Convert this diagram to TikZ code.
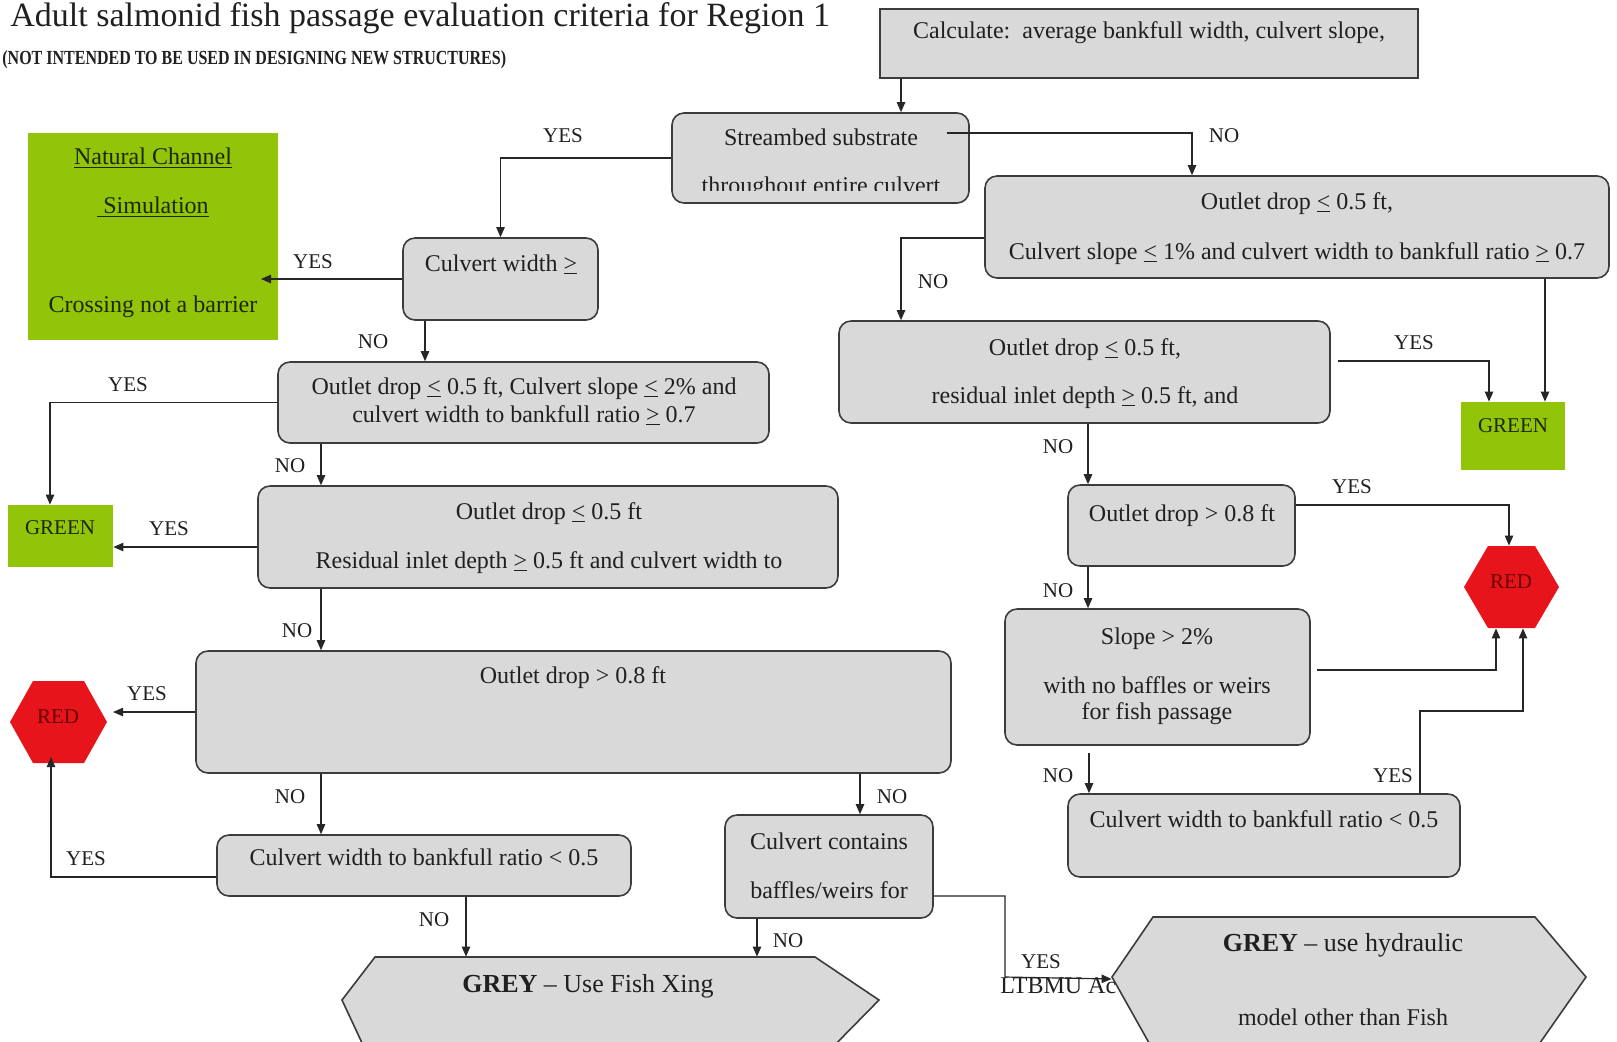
\documentclass[tikz,border=0pt]{standalone}
\usepackage{fontspec}
\setmainfont{Liberation Serif}
\usetikzlibrary{arrows.meta,fit}

\definecolor{boxgrey}{RGB}{217,217,217}
\definecolor{edge}{RGB}{60,60,60}
\definecolor{lime}{RGB}{146,196,10}
\definecolor{stopred}{RGB}{232,20,28}
\definecolor{redink}{RGB}{105,0,0}
\definecolor{ink}{RGB}{32,32,32}
\definecolor{greenink}{RGB}{28,40,0}

% underlined comparison signs
\newcommand{\myle}{\underline{<}}
\newcommand{\myge}{\underline{>}}

\begin{document}
\begin{tikzpicture}[x=0.5pt,y=-0.5pt,
  box/.style={draw=edge, fill=boxgrey, line width=0.8pt, rounded corners=6pt, inner sep=0pt},
  sqbox/.style={draw=edge, fill=boxgrey, line width=0.8pt, inner sep=0pt},
  go/.style={fill=lime, inner sep=0pt},
  area/.style={inner sep=0pt},
  txt/.style={inner sep=0pt, anchor=base, text=ink, font=\fontsize{12}{14}\selectfont},
  lbl/.style={inner sep=0pt, anchor=base, text=ink, font=\fontsize{10.5}{12}\selectfont},
  link/.style={draw=black!85, line width=0.6pt},
  arr/.style={link, -{Triangle[length=5pt,width=4.2pt]}}
]
\path[use as bounding box, fill=white] (0,0) rectangle (1617,1041);

% ---------- heading ----------
\node[inner sep=0pt, anchor=base west, text=ink, font=\fontsize{17}{20}\selectfont] (title) at (10,26)
  {Adult salmonid fish passage evaluation criteria for Region 1};
\node[inner sep=0pt, anchor=base west, text=ink, font=\bfseries\fontsize{10}{12}\selectfont] (subtitle) at (2,64)
  {\scalebox{0.8}[1]{(NOT INTENDED TO BE USED IN DESIGNING NEW STRUCTURES)}};

% ---------- boxes ----------
\node[sqbox, fit={(880,9) (1418,78)}] (calc) {};
\node[box, fit={(672,113) (969,203)}] (sb) {};
\node[go, fit={(28,133) (278,340)}] (nc) {};
\node[box, fit={(403,238) (598,320)}] (cw) {};
\node[box, fit={(985,176) (1609,278)}] (o1) {};
\node[box, fit={(278,362) (769,443)}] (o2) {};
\node[box, fit={(839,321) (1330,423)}] (o3) {};
\node[go, fit={(1461,402) (1565,470)}] (g2) {};
\node[go, fit={(8,505) (113,567)}] (g1) {};
\node[box, fit={(258,486) (838,588)}] (o4) {};
\node[box, fit={(1068,485) (1295,566)}] (o5) {};
\node[box, fit={(196,651) (951,773)}] (o6) {};
\node[box, fit={(1005,609) (1310,745)}] (sl) {};
\node[box, fit={(1068,794) (1460,877)}] (rr) {};
\node[box, fit={(217,835) (631,896)}] (rl) {};
\node[box, fit={(725,815) (933,918)}] (cc) {};

% stop signs
\node[area, fit={(10,681) (107,763)}] (red1) {};
\fill[stopred] (10,722) -- (33,681) -- (84,681) -- (107,722) -- (84,763) -- (33,763) -- cycle;
\node[area, fit={(1464,546) (1559,628)}] (red2) {};
\fill[stopred] (1464,587) -- (1488,546) -- (1535,546) -- (1559,587) -- (1535,628) -- (1488,628) -- cycle;

% side note partly covered by the second grey hexagon
\node[txt, anchor=base west] (ltbmu) at (1000,993) {LTBMU Ac};

% grey outcome hexagons
\node[area, fit={(342,957) (879,1041)}] (gr1) {};
\filldraw[fill=boxgrey, draw=edge, line width=0.8pt]
  (342,1000) -- (375,957) -- (815,957) -- (879,1000) -- (820,1060) -- (370,1060) -- cycle;
\node[area, fit={(1112,917) (1586,1041)}] (gr2) {};
\filldraw[fill=boxgrey, draw=edge, line width=0.8pt]
  (1112,977) -- (1153,917) -- (1535,917) -- (1586,977) -- (1535,1050) -- (1153,1050) -- cycle;

% ---------- box texts ----------
\node[txt] (t-calc) at (1149,38) {Calculate:\ \ average bankfull width, culvert slope,};
\node[txt] (t-sb1) at (821,145) {Streambed substrate};
\begin{scope}
  \clip (672,150) rectangle (969,190);
  \node[txt] (t-sb2) at (821,193) {throughout entire culvert};
\end{scope}
\node[txt, text=greenink] (t-nc1) at (153,164) {\underline{Natural Channel}};
\node[txt, text=greenink] (t-nc2) at (153,213) {\underline{\ Simulation}};
\node[txt, text=greenink] (t-nc3) at (153,312) {Crossing not a barrier};
\node[txt] (t-cw) at (501,271) {Culvert width \myge};
\node[txt] (t-o1a) at (1297,209) {Outlet drop \myle{} 0.5 ft,};
\node[txt] (t-o1b) at (1297,259) {Culvert slope \myle{} 1\% and culvert width to bankfull ratio \myge{} 0.7};
\node[txt] (t-o3a) at (1085,355) {Outlet drop \myle{} 0.5 ft,};
\node[txt] (t-o3b) at (1085,403) {residual inlet depth \myge{} 0.5 ft, and};
\node[txt] (t-o2a) at (524,394) {Outlet drop \myle{} 0.5 ft, Culvert slope \myle{} 2\% and};
\node[txt] (t-o2b) at (524,422) {culvert width to bankfull ratio \myge{} 0.7};
\node[txt] (t-o4a) at (549,519) {Outlet drop \myle{} 0.5 ft};
\node[txt] (t-o4b) at (549,568) {Residual inlet depth \myge{} 0.5 ft and culvert width to};
\node[txt] (t-o5) at (1182,521) {Outlet drop > 0.8 ft};
\node[txt] (t-o6) at (573,683) {Outlet drop > 0.8 ft};
\node[txt] (t-sl1) at (1157,644) {Slope > 2\%};
\node[txt] (t-sl2) at (1157,693) {with no baffles or weirs};
\node[txt] (t-sl3) at (1157,719) {for fish passage};
\node[txt] (t-rr) at (1264,827) {Culvert width to bankfull ratio < 0.5};
\node[txt] (t-rl) at (424,865) {Culvert width to bankfull ratio < 0.5};
\node[txt] (t-cc1) at (829,849) {Culvert contains};
\node[txt] (t-cc2) at (829,898) {baffles/weirs for};
\node[txt, font=\fontsize{13}{15}\selectfont] (t-gr1) at (588,992) {\textbf{GREY} -- Use Fish Xing};
\node[txt, font=\fontsize{13}{15}\selectfont] (t-gr2a) at (1343,951) {\textbf{GREY} -- use hydraulic};
\node[txt] (t-gr2b) at (1343,1025) {model other than Fish};
\node[lbl, text=greenink] (t-g1) at (60,534) {GREEN};
\node[lbl, text=greenink] (t-g2) at (1513,432) {GREEN};
\node[lbl, text=redink] (t-r1) at (58,723) {RED};
\node[lbl, text=redink] (t-r2) at (1511,588) {RED};

% ---------- helper coordinates for connector lines ----------
\coordinate (v50) at (50,0);
\coordinate (v321) at (321,0);
\coordinate (v425) at (425,0);
\coordinate (v466) at (466,0);
\coordinate (v757) at (757,0);
\coordinate (v860) at (860,0);
\coordinate (v901) at (901,0);
\coordinate (v1005) at (1005,0);
\coordinate (v1088) at (1088,0);
\coordinate (v1192) at (1192,0);
\coordinate (v1420) at (1420,0);
\coordinate (v1489) at (1489,0);
\coordinate (v1496) at (1496,0);
\coordinate (v1509) at (1509,0);
\coordinate (v1523) at (1523,0);
\coordinate (v1545) at (1545,0);
\coordinate (h133) at (0,133);
\coordinate (h238) at (0,238);
\coordinate (h505) at (0,505);
\coordinate (h547) at (0,547);
\coordinate (h711) at (0,711);
\coordinate (h877) at (0,877);
\coordinate (h896) at (0,896);
\coordinate (h977) at (0,977);
\coordinate (sbno) at (947,133);
\coordinate (ncin) at (261,279);
\coordinate (r1in) at (113,712);
\coordinate (r1up) at (51,757);
\coordinate (o3yes) at (1338,361);
\coordinate (slout) at (1317,670);
\coordinate (slno) at (1089,753);

% ---------- connectors ----------
\draw[arr] (v901 |- calc.south) -- (v901 |- sb.north);
\draw[arr] (sb.west) -| (cw.north);
\draw[arr] (sbno) -- (v1192 |- h133) -- (v1192 |- o1.north);
\draw[arr] (cw.west) -- (ncin);
\draw[arr] (v425 |- cw.south) -- (v425 |- o2.north);
\draw[arr] (o2.west) -| (v50 |- g1.north);
\draw[arr] (v321 |- o2.south) -- (v321 |- o4.north);
\draw[arr] (h547 -| o4.west) -- (h547 -| g1.east);
\draw[arr] (v321 |- o4.south) -- (v321 |- o6.north);
\draw[arr] (o6.west) -- (r1in);
\draw[arr] (v321 |- o6.south) -- (v321 |- rl.north);
\draw[arr] (v860 |- o6.south) -- (v860 |- cc.north);
\draw[arr] (h877 -| rl.west) -| (r1up);
\draw[arr] (v466 |- rl.south) -- (v466 |- gr1.north);
\draw[arr] (v757 |- cc.south) -- (v757 |- gr1.north);
\draw[arr] (h896 -| cc.east) -| (v1005 |- h977) -- (gr2.west);
\draw[arr] (h238 -| o1.west) -| (v901 |- o3.north);
\draw[arr] (v1545 |- o1.south) -- (v1545 |- g2.north);
\draw[arr] (o3yes) -| (v1489 |- g2.north);
\draw[arr] (v1088 |- o3.south) -- (v1088 |- o5.north);
\draw[arr] (h505 -| o5.east) -| (v1509 |- red2.north);
\draw[arr] (v1088 |- o5.south) -- (v1088 |- sl.north);
\draw[arr] (slout) -| (v1496 |- red2.south);
\draw[arr] (slno) -- (slno |- rr.north);
\draw[arr] (v1420 |- rr.north) |- (v1523 |- h711) -- (v1523 |- red2.south);

% ---------- branch labels ----------
\node[lbl] (l-sb-yes) at (563,142) {YES};
\node[lbl] (l-sb-no) at (1224,142) {NO};
\node[lbl] (l-cw-yes) at (313,268) {YES};
\node[lbl] (l-cw-no) at (373,348) {NO};
\node[lbl] (l-o2-yes) at (128,391) {YES};
\node[lbl] (l-o2-no) at (290,472) {NO};
\node[lbl] (l-o4-yes) at (169,535) {YES};
\node[lbl] (l-o4-no) at (297,637) {NO};
\node[lbl] (l-o6-yes) at (147,700) {YES};
\node[lbl] (l-o6-no1) at (290,803) {NO};
\node[lbl] (l-o6-no2) at (892,803) {NO};
\node[lbl] (l-rl-yes) at (86,865) {YES};
\node[lbl] (l-rl-no) at (434,926) {NO};
\node[lbl] (l-cc-no) at (788,947) {NO};
\node[lbl] (l-cc-yes) at (1041,968) {YES};
\node[lbl] (l-o1-no) at (933,288) {NO};
\node[lbl] (l-o3-yes) at (1414,349) {YES};
\node[lbl] (l-o3-no) at (1058,453) {NO};
\node[lbl] (l-o5-yes) at (1352,493) {YES};
\node[lbl] (l-o5-no) at (1058,597) {NO};
\node[lbl] (l-sl-no) at (1058,782) {NO};
\node[lbl] (l-rr-yes) at (1393,782) {YES};
\end{tikzpicture}
\end{document}
